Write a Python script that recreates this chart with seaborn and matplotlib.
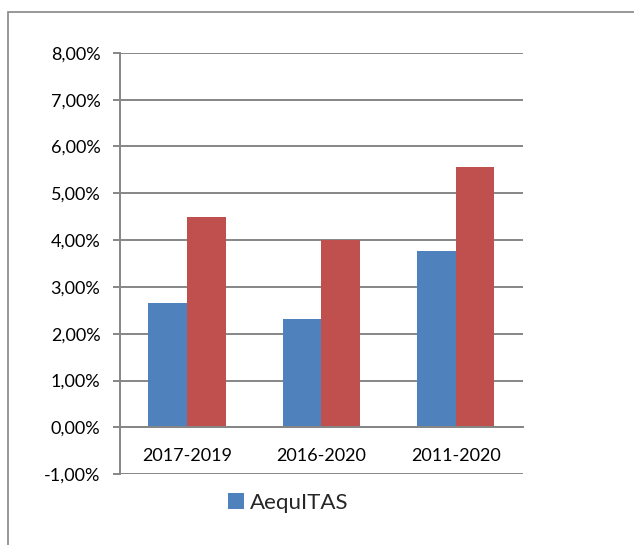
"""Rendement annualisé par période : AequITAS face à sa référence."""

import matplotlib.pyplot as plt
import pandas as pd
import seaborn as sns
from matplotlib.patches import Patch, Rectangle
from matplotlib.ticker import FuncFormatter, MultipleLocator

# Valeurs (en %)
periods = ["2017-2019", "2016-2020", "2011-2020"]
aequitas_values = [2.66, 2.32, 3.76]
reference_values = [4.49, 4.00, 5.56]
series_names = ["AequITAS", "Référence"]

BLUE = "#4F81BD"
RED = "#C0504D"
GRID = "#868686"


def percent_label(value: float, _pos) -> str:
    """Formate une graduation à la française : 4,00%."""
    return f"{value:.2f}%".replace(".", ",")


def build_frame() -> pd.DataFrame:
    """Assemble les séries en un tableau long pour seaborn."""
    return pd.DataFrame(
        {
            "period": periods * 2,
            "value": aequitas_values + reference_values,
            "series": [series_names[0]] * len(periods) + [series_names[1]] * len(periods),
        }
    )


def main() -> None:
    sns.set_theme(style="white")
    plt.rcParams["font.family"] = ["Lato", "DejaVu Sans"]

    df = build_frame()

    fig = plt.figure(figsize=(6.34, 5.45), dpi=100)
    ax = fig.add_axes([0.189, 0.130, 0.636, 0.773])

    sns.barplot(
        data=df,
        x="period",
        y="value",
        hue="series",
        palette=[BLUE, RED],
        width=0.575,
        gap=0,
        saturation=1,
        linewidth=0,
        legend=False,
        ax=ax,
    )

    ax.set_ylim(-1, 8)
    ax.set_xlim(-0.5, len(periods) - 0.5)
    ax.yaxis.set_major_locator(MultipleLocator(1))
    ax.yaxis.set_major_formatter(FuncFormatter(percent_label))
    ax.yaxis.grid(True, color=GRID, linewidth=1.4)
    ax.set_axisbelow(True)

    for side in ["top", "right"]:
        ax.spines[side].set_visible(False)
    ax.spines["left"].set_color(GRID)
    ax.spines["left"].set_linewidth(1.4)
    ax.spines["bottom"].set_position(("data", 0))
    ax.spines["bottom"].set_color(GRID)
    ax.spines["bottom"].set_linewidth(1.4)

    ax.set_xticks([i - 0.5 for i in range(len(periods) + 1)], minor=True)
    ax.tick_params(axis="x", which="minor", length=6, width=1.4, color=GRID, direction="out")
    ax.tick_params(axis="x", which="major", length=0, pad=15, labelsize=13, labelcolor="black")
    ax.tick_params(axis="y", length=5, width=1.4, color=GRID, direction="out",
                   left=True, labelsize=13, labelcolor="black", pad=9)

    ax.set_xlabel("")
    ax.set_ylabel("")

    handle = Patch(facecolor=BLUE, edgecolor="none")
    fig.legend(
        [handle],
        [series_names[0]],
        loc="center",
        bbox_to_anchor=(0.455, 1 - 503 / 545),
        frameon=False,
        fontsize=16,
        handlelength=0.7,
        handleheight=0.7,
        handletextpad=0.3,
    )

    # Cadre gris du graphique, coupé à droite et en bas
    fig.patches.append(
        Rectangle((8 / 634, -0.05), 1.1, 1.05 - 12 / 545,
                  transform=fig.transFigure, fill=False, edgecolor=GRID, linewidth=1.2)
    )

    fig.savefig("out.png", dpi=100)
    plt.close(fig)


if __name__ == "__main__":
    main()
